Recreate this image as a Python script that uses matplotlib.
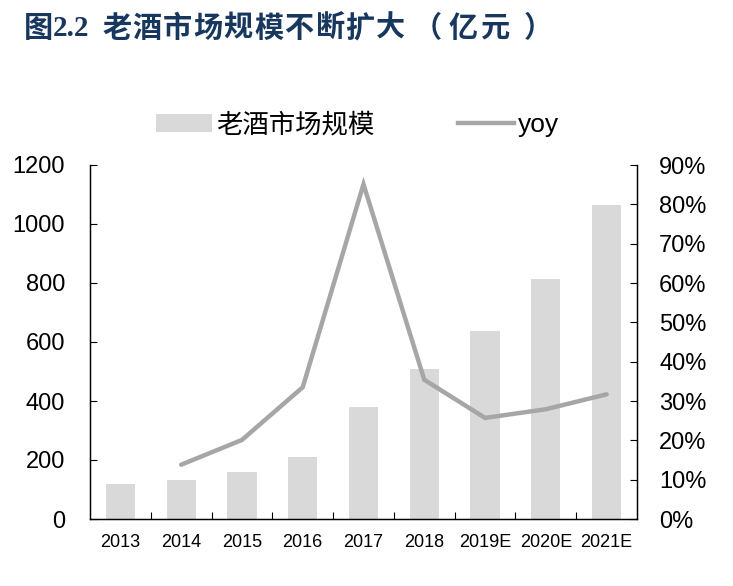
"""
老酒市场规模柱状图 + yoy 折线（双轴）
"""
import matplotlib
matplotlib.use('Agg')
import matplotlib.pyplot as plt
from matplotlib.patches import Patch
from matplotlib.lines import Line2D
from matplotlib.ticker import FuncFormatter, FixedLocator

# 字体：英文数字用 Liberation Sans，中文回退到 Noto Sans CJK SC
plt.rcParams['font.family'] = ['Liberation Sans', 'Noto Sans CJK SC']
plt.rcParams['axes.unicode_minus'] = False

# 数据
years = ['2013', '2014', '2015', '2016', '2017', '2018', '2019E', '2020E', '2021E']
market_size = [119, 132, 158, 209, 379, 509, 636, 812, 1064]   # 亿元
yoy_years = years[1:]
yoy = [13.8, 20.1, 33.5, 85.1, 35.4, 25.7, 27.9, 31.7]          # %

bar_color = '#d9d9d9'
line_color = '#a6a6a6'
title_color = '#17375e'

W, H = 733, 586
fig = plt.figure(figsize=(W / 100, H / 100), dpi=100)
ax1 = fig.add_axes([90 / W, 1 - 519 / H, (637 - 90) / W, (519 - 165) / H])
ax2 = ax1.twinx()

x = list(range(len(years)))
ax1.bar(x, market_size, width=0.48, color=bar_color, zorder=1)
ax2.plot([years.index(y) for y in yoy_years], yoy, color=line_color,
         linewidth=3.2, solid_capstyle='round', solid_joinstyle='miter', zorder=3)

# 左轴
ax1.set_xlim(-0.5, len(years) - 0.5)
ax1.set_ylim(0, 1200)
ax1.set_yticks(range(0, 1201, 200))
ax1.tick_params(axis='y', direction='in', length=5, width=0.8, labelsize=17, pad=18)

# x 轴：刻度线放在类别分隔处，标签在类别中心
ax1.set_xticks(x)
ax1.set_xticklabels(years)
ax1.tick_params(axis='x', which='major', length=0, labelsize=13, pad=11)
ax1.xaxis.set_minor_locator(FixedLocator([i + 0.5 for i in range(len(years) - 1)]))
ax1.tick_params(axis='x', which='minor', direction='in', length=5, width=0.8)

# 右轴
ax2.set_ylim(0, 90)
ax2.set_yticks(range(0, 91, 10))
ax2.yaxis.set_major_formatter(FuncFormatter(lambda v, p: f'{v:.0f}%'))
ax2.tick_params(axis='y', direction='in', length=5, width=0.8, labelsize=17, pad=16)

for ax in (ax1, ax2):
    ax.spines['top'].set_visible(False)
    for s in ('left', 'right', 'bottom'):
        ax.spines[s].set_linewidth(0.9)
        ax.spines[s].set_color('black')
ax1.set_zorder(ax2.get_zorder() - 1)
ax2.patch.set_visible(False)

# 图例
handles = [Patch(facecolor=bar_color, edgecolor='none', label='老酒市场规模'),
           Line2D([0], [0], color=line_color, linewidth=3.2, label='yoy')]
fig.legend(handles=handles, loc='center', bbox_to_anchor=(0.488, 0.787), ncol=2,
           frameon=False, fontsize=19, handlelength=2.1, handleheight=0.7,
           handletextpad=0.15, columnspacing=3.2)

# 标题：原图字间距较宽，逐段放置
title_font = dict(family=['Liberation Serif', 'Noto Sans CJK SC'], fontweight='bold',
                  fontsize=21, color=title_color, ha='left', va='center')
ty = 1 - 29 / H
fig.text(24 / W, ty, '图', **title_font)
fig.text(53 / W, ty, '2.2', **title_font)
for i, ch in enumerate('老酒市场规模不断扩大'):
    fig.text((102 + i * 30.4) / W, ty, ch, **title_font)
fig.text(413 / W, ty, '（', **title_font)
fig.text(449 / W, ty, '亿', **title_font)
fig.text(480 / W, ty, '元', **title_font)
fig.text(524 / W, ty, '）', **title_font)

fig.savefig('out.png', dpi=100)
